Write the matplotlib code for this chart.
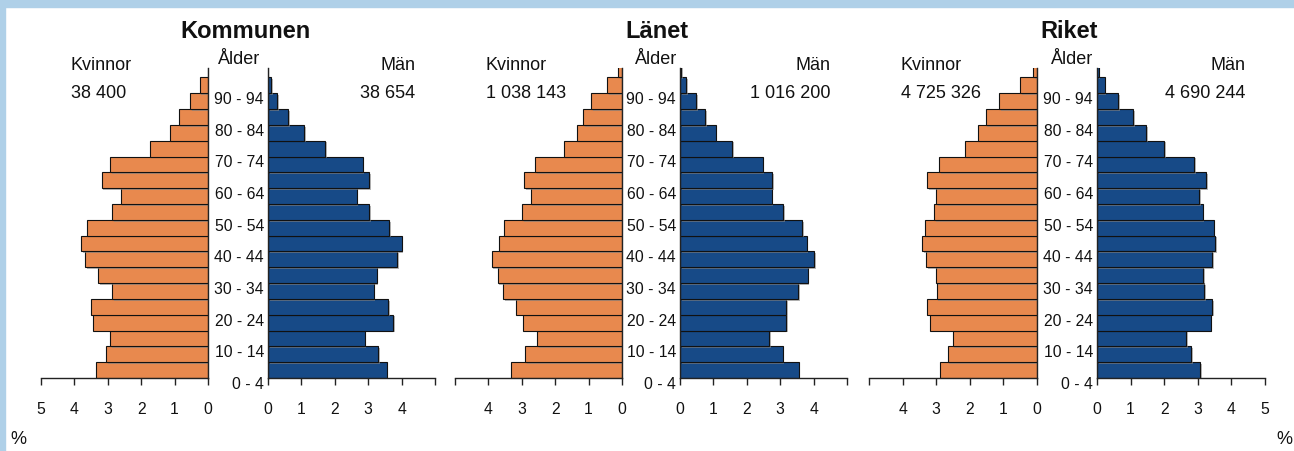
import matplotlib
matplotlib.use("Agg")
import matplotlib.pyplot as plt
import matplotlib.patheffects as pe
from matplotlib.patches import Rectangle

plt.rcParams["font.family"] = ["Liberation Sans", "DejaVu Sans"]

# age groups 0-4 ... 95+ (youngest first), share in percent
age_labels = ["0 - 4", "10 - 14", "20 - 24", "30 - 34", "40 - 44",
              "50 - 54", "60 - 64", "70 - 74", "80 - 84", "90 - 94"]

kommun_women = [3.36, 3.05, 2.92, 3.43, 3.51, 2.86, 3.28, 3.67, 3.79, 3.61,
                2.87, 2.61, 3.18, 2.93, 1.74, 1.15, 0.88, 0.53, 0.25, 0.0]
kommun_men = [3.55, 3.29, 2.89, 3.75, 3.59, 3.16, 3.25, 3.86, 4.00, 3.62,
              3.02, 2.65, 3.02, 2.83, 1.71, 1.08, 0.61, 0.27, 0.10, 0.0]

lan_women = [3.32, 2.90, 2.53, 2.97, 3.16, 3.55, 3.72, 3.90, 3.69, 3.53,
             2.99, 2.73, 2.92, 2.60, 1.74, 1.35, 1.17, 0.92, 0.45, 0.12]
lan_men = [3.55, 3.07, 2.66, 3.18, 3.18, 3.54, 3.82, 4.02, 3.79, 3.65,
           3.09, 2.74, 2.76, 2.48, 1.57, 1.07, 0.76, 0.49, 0.18, 0.03]

riket_women = [2.90, 2.66, 2.51, 3.17, 3.27, 2.99, 3.01, 3.30, 3.41, 3.34,
               3.06, 3.01, 3.26, 2.91, 2.14, 1.76, 1.53, 1.12, 0.50, 0.11]
riket_men = [3.07, 2.81, 2.65, 3.38, 3.43, 3.19, 3.16, 3.42, 3.52, 3.47,
             3.14, 3.04, 3.25, 2.89, 1.99, 1.46, 1.08, 0.63, 0.23, 0.05]

titles = ["Kommunen", "Länet", "Riket"]
women_totals = ["38 400", "1 038 143", "4 725 326"]
men_totals = ["38 654", "1 016 200", "4 690 244"]

W, H = 1294, 451
ORANGE = "#E8894E"
BLUE = "#174A87"
EDGE = "#111111"

fig = plt.figure(figsize=(W / 100, H / 100), dpi=100)

# light blue frame
fig.patches.append(Rectangle((0, 1 - 7 / H), 1, 7 / H, transform=fig.transFigure,
                             color="#AFD0E8", zorder=-1))
fig.patches.append(Rectangle((0, 0), 5 / W, 1, transform=fig.transFigure,
                             color="#AFD0E8", zorder=-1))


def fax(x0, x1, top=68, bottom=378):
    return fig.add_axes([x0 / W, 1 - bottom / H, (x1 - x0) / W, (bottom - top) / H])


# pixel positions of each panel (left axis, right axis); tick labels for 0..5
panels = [
    ((41, 208), (268, 435), ["0", "1", "2", "3", "4", "5"], ["0", "1", "2", "3", "4", ""]),
    ((455, 622), (680, 847), ["0", "1", "2", "3", "4", ""], ["0", "1", "2", "3", "4", ""]),
    ((869, 1037), (1097, 1265), ["0", "1", "2", "3", "4", ""], ["0", "1", "2", "3", "4", "5"]),
]
data = [(kommun_women, kommun_men), (lan_women, lan_men), (riket_women, riket_men)]
title_x = [245, 657, 1069]
alder_x = [239, 656, 1072]
kv_x = [71, 486, 901]
man_x = [415, 830, 1245]

shadow = [pe.SimplePatchShadow(offset=(1.2, -1.2), shadow_rgbFace="#888888", alpha=0.6),
          pe.Normal()]

for k, ((lx, rx, lt, rt), (women, men)) in enumerate(zip(panels, data)):
    pos = list(range(len(women)))
    axl = fax(*lx)
    axr = fax(*rx)
    axl.barh(pos, women, height=1.0, color=ORANGE, edgecolor=EDGE, linewidth=0.8,
             path_effects=shadow)
    axr.barh(pos, men, height=1.0, color=BLUE, edgecolor=EDGE, linewidth=0.8,
             path_effects=shadow)
    axl.set_xlim(5, 0)
    axr.set_xlim(0, 5)
    for ax, labels, keep in ((axl, lt, "right"), (axr, rt, "left")):
        ax.set_ylim(-0.5, 19.1)
        ax.set_facecolor("none")
        for s in ("top", "left", "right", "bottom"):
            ax.spines[s].set_visible(s in (keep, "bottom"))
            ax.spines[s].set_color("#222222")
            ax.spines[s].set_linewidth(1.0)
        ax.set_yticks([])
        ax.set_xticks(range(6))
        ax.set_xticklabels(labels)
        ax.tick_params(axis="x", direction="out", length=5, width=1.0, color="#222222",
                       pad=12, labelsize=11.3, labelcolor="#111111")

    for j, lab in enumerate(age_labels):
        axr.annotate(lab, xy=(0, 2 * j - 0.9), xycoords=axr.get_yaxis_transform(),
                     xytext=(-4, 0), textcoords="offset pixels", ha="right", va="center",
                     fontsize=11.3, color="#111111", annotation_clip=False)

    fig.text(title_x[k] / W, 1 - 32 / H, titles[k], ha="center", va="center",
             fontsize=17, fontweight="bold", color="#111111")
    fig.text(alder_x[k] / W, 1 - 60 / H, "Ålder", ha="center", va="center",
             fontsize=13, color="#111111")
    fig.text(kv_x[k] / W, 1 - 66 / H, "Kvinnor", ha="left", va="center",
             fontsize=13, color="#111111")
    fig.text(kv_x[k] / W, 1 - 93 / H, women_totals[k], ha="left", va="center",
             fontsize=13, color="#111111")
    fig.text(man_x[k] / W, 1 - 66 / H, "Män", ha="right", va="center",
             fontsize=13, color="#111111")
    fig.text(man_x[k] / W, 1 - 93 / H, men_totals[k], ha="right", va="center",
             fontsize=13, color="#111111")

fig.text(10 / W, 1 - 440 / H, "%", ha="left", va="center", fontsize=13, color="#111111")
fig.text(1292 / W, 1 - 440 / H, "%", ha="right", va="center", fontsize=13, color="#111111")

fig.savefig("out.png", dpi=100)
